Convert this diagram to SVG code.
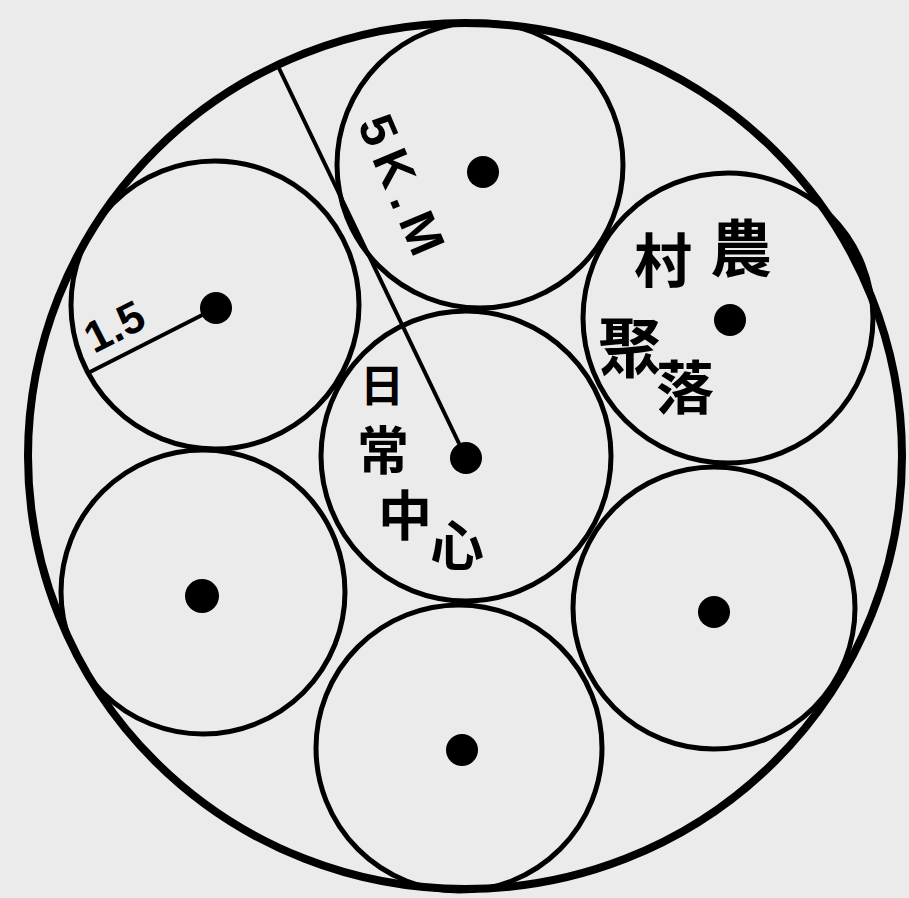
<svg xmlns="http://www.w3.org/2000/svg" width="909" height="898" viewBox="0 0 909 898">
<style>
.outer{fill:none;stroke:#000;stroke-width:8}
.c{fill:none;stroke:#000;stroke-width:5}
.dot{fill:#000}
.lat{font-family:"Liberation Sans","DejaVu Sans",sans-serif;font-weight:700;fill:#000}
.cjk{font-family:"Noto Sans CJK TC","Noto Sans CJK SC",sans-serif;font-weight:700;fill:#000;text-anchor:middle}
.ln{stroke:#000;stroke-width:4;fill:none}
</style>
<rect width="909" height="898" fill="#ebebeb"/>
<g id="region">
<ellipse class="outer" cx="465" cy="456" rx="437" ry="433"/>
</g>
<g id="center-node">
<circle class="c" cx="466" cy="456" r="145"/>
<circle class="dot" cx="466" cy="458" r="16"/>
<text class="cjk" x="382" y="402" font-size="44">日</text>
<text class="cjk" x="383" y="470" font-size="52">常</text>
<text class="cjk" x="405" y="536" font-size="54">中</text>
<text class="cjk" x="457" y="566" font-size="54">心</text>
</g>
<g id="top-node">
<circle class="c" cx="480" cy="165" r="143"/>
<circle class="dot" cx="483" cy="172" r="16"/>
</g>
<g id="upper-right-node">
<circle class="c" cx="728" cy="318" r="145"/>
<circle class="dot" cx="730" cy="320" r="16"/>
<text class="cjk" x="741" y="272" font-size="62">農</text>
<text class="cjk" x="663" y="282" font-size="58">村</text>
<text class="cjk" x="630" y="372" font-size="64">聚</text>
<text class="cjk" x="685" y="409" font-size="58">落</text>
</g>
<g id="lower-right-node">
<circle class="c" cx="714" cy="608" r="141"/>
<circle class="dot" cx="714" cy="612" r="16"/>
</g>
<g id="bottom-node">
<circle class="c" cx="459" cy="748" r="143"/>
<circle class="dot" cx="462" cy="750" r="16"/>
</g>
<g id="lower-left-node">
<circle class="c" cx="203" cy="592" r="142"/>
<circle class="dot" cx="202" cy="596" r="17"/>
</g>
<g id="upper-left-node">
<circle class="c" cx="215" cy="305" r="144"/>
<circle class="dot" cx="216" cy="308" r="16"/>
</g>
<g id="connectors">
<line class="ln" x1="276" y1="62" x2="466" y2="458"/>
<line class="ln" x1="88" y1="373" x2="216" y2="308"/>
</g>
<g id="labels">
<text class="lat" x="357" y="124" font-size="50" letter-spacing="9" transform="rotate(67 357 124)">5K.M</text>
<text class="lat" x="94" y="354" font-size="44" transform="rotate(-27 94 354)">1.5</text>
</g>
</svg>
